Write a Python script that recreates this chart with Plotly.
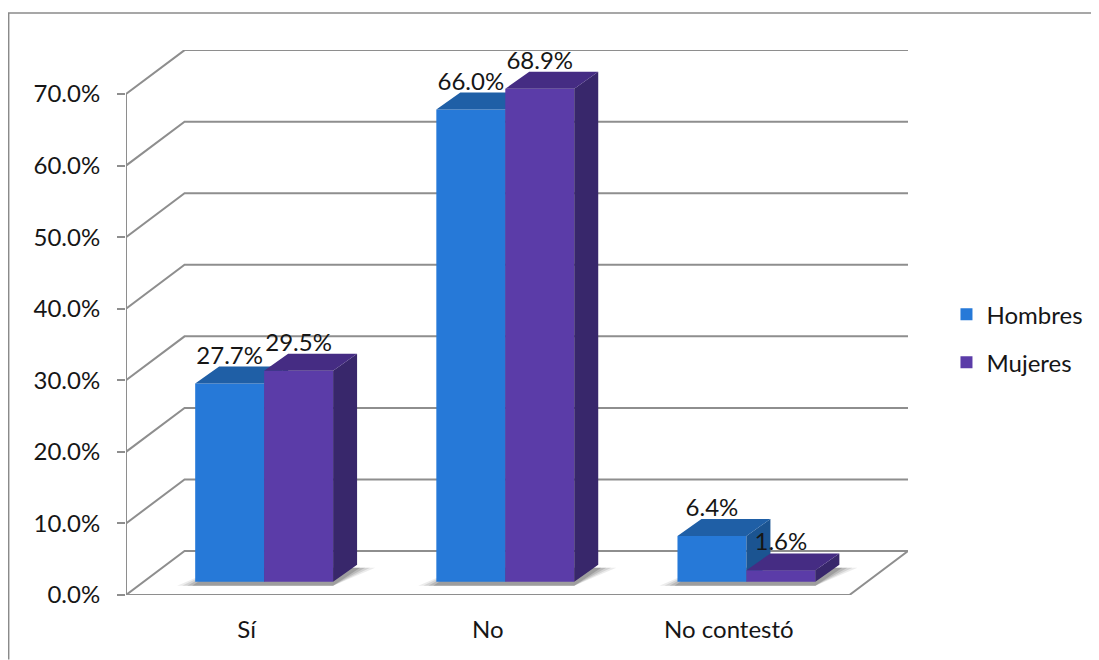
import plotly.graph_objects as go

categories = ["Sí", "No", "No contestó"]
hombres = [27.7, 66.0, 6.4]
mujeres = [29.5, 68.9, 1.6]
y_ticks = [0, 10, 20, 30, 40, 50, 60, 70]
y_labels = ["0.0%", "10.0%", "20.0%", "30.0%", "40.0%", "50.0%", "60.0%", "70.0%"]

PAGE = 8           # the browser's default body margin
W, H = 1099, 660
FIG_W, FIG_H = 1099, 652
L, R, T, B = 126, 908.5, 49.5, 595.5
PX_X = 241.3       # pixels per category
PX_Y = 7.17        # pixels per percentage point
WALL_X = (R - L) / PX_X - 3
WALL_Y = 6.14
BAR_W = 69 / PX_X
START_X, START_Y = 0.3 * WALL_X, 0.3 * WALL_Y
DEPTH_X, DEPTH_Y = 24 / PX_X, 17 / PX_Y
LABEL_UP = 26 / PX_Y

GRID = "#8e8e8e"
FONT = "Lato"
INK = "#161616"
FS = 24

fig = go.Figure()


def poly(name, xs, ys, color, xa="x", ya="y"):
    fig.add_trace(go.Scatter(x=xs, y=ys, mode="lines", fill="toself", fillcolor=color,
                             line=dict(width=0), hoverinfo="skip", showlegend=False,
                             name=name, xaxis=xa, yaxis=ya, cliponaxis=False))


# grid on the walls
gx, gy = [], []
for v in y_ticks:
    gx += [0, WALL_X, 3 + WALL_X, None]
    gy += [v, v + WALL_Y, v + WALL_Y, None]
gx += [0, 0, None, 0, 3, 3 + WALL_X]
gy += [0, 70, None, 0, 0, WALL_Y]
fig.add_trace(go.Scatter(x=gx, y=gy, mode="lines", line=dict(color=GRID, width=2),
                         hoverinfo="skip", showlegend=False, cliponaxis=False))

# shadow on the floor
for grow, alpha in [(18, 0.10), (13, 0.14), (8, 0.18), (3, 0.24)]:
    sx, sy = [], []
    for i in range(3):
        x0 = i + 0.5 + START_X - BAR_W
        x1 = i + 0.5 + START_X + BAR_W
        g = grow / PX_X
        low = START_Y - 0.55
        d = DEPTH_Y
        sx += [x0 - g, x1, x1 + DEPTH_X + g, x0 + DEPTH_X, None]
        sy += [low, low, low + d + 0.15, low + d + 0.15, None]
    poly("sombra", sx, sy, f"rgba(70,70,70,{alpha})")


def series(name, values, side, front, top, dark, xa, ya):
    xs = [i + 0.5 + START_X + side * BAR_W / 2 for i in range(len(values))]
    fig.add_trace(go.Bar(x=xs, y=values, base=[START_Y] * len(values), width=BAR_W,
                         marker=dict(color=front, line=dict(width=0)), name=name,
                         legendgroup=name, xaxis=xa, yaxis=ya,
                         hovertemplate="%{y:.1f}%<extra>" + name + "</extra>"))
    tx, ty, dx, dy = [], [], [], []
    for c, v in zip(xs, values):
        a, b = c - BAR_W / 2, c + BAR_W / 2
        h = v + START_Y
        tx += [a, b, b + DEPTH_X, a + DEPTH_X, None]
        ty += [h, h, h + DEPTH_Y, h + DEPTH_Y, None]
        dx += [b, b + DEPTH_X, b + DEPTH_X, b, None]
        dy += [START_Y, START_Y + DEPTH_Y, h + DEPTH_Y, h, None]
    poly(name + " lado", dx, dy, dark, xa, ya)
    poly(name + " arriba", tx, ty, top, xa, ya)
    return xs


xh = series("Hombres", hombres, -1, "#2679d8", "#1f5fa6", "#1b5491", "x2", "y2")
xm = series("Mujeres", mujeres, 1, "#5b3ca8", "#452c83", "#38276b", "x3", "y3")

fig.add_trace(go.Scatter(
    x=xh + xm,
    y=[v + START_Y + LABEL_UP for v in hombres + mujeres],
    text=[f"{v:.1f}%" for v in hombres + mujeres],
    mode="text", textposition="middle center",
    textfont=dict(family=FONT, size=FS, color=INK),
    hoverinfo="skip", showlegend=False, xaxis="x3", yaxis="y3", cliponaxis=False))

x_range = [0, 3 + WALL_X]
y_range = [0, (B - T) / PX_Y]
hidden = dict(visible=False, fixedrange=True)

fig.update_layout(
    width=FIG_W, height=FIG_H, autosize=False,
    margin=dict(l=L - PAGE, r=FIG_W + PAGE - R, t=T - PAGE, b=FIG_H + PAGE - B, pad=0),
    paper_bgcolor="white", plot_bgcolor="rgba(0,0,0,0)",
    barmode="overlay", font=dict(family=FONT, size=FS, color=INK),
    xaxis=dict(range=x_range, tickvals=[i + 0.5 for i in range(3)], ticktext=categories,
               showgrid=False, zeroline=False, showline=False, ticks="", ticklabelstandoff=18,
               tickfont=dict(family=FONT, size=FS, color=INK), fixedrange=True),
    yaxis=dict(range=y_range, tickvals=y_ticks, ticktext=y_labels,
               showgrid=False, zeroline=False, showline=False,
               ticks="outside", ticklen=8, tickwidth=2, tickcolor=GRID, ticklabelstandoff=12,
               tickfont=dict(family=FONT, size=FS, color=INK), fixedrange=True),
    xaxis2=dict(range=x_range, overlaying="x", **hidden),
    yaxis2=dict(range=y_range, overlaying="y", **hidden),
    xaxis3=dict(range=x_range, overlaying="x", **hidden),
    yaxis3=dict(range=y_range, overlaying="y", **hidden),
    legend=dict(x=(947 - L) / (R - L), y=(B - 292) / (B - T), xanchor="left", yanchor="top",
                traceorder="grouped", tracegroupgap=14, itemwidth=30,
                font=dict(family=FONT, size=FS, color=INK), bgcolor="rgba(0,0,0,0)"),
    shapes=[dict(type="path", xref="paper", yref="paper",
                 path=f"M {(8.6 - L) / (R - L)} {(B - 660) / (B - T)} "
                      f"L {(8.6 - L) / (R - L)} {(B - 12.5) / (B - T)} "
                      f"L {(1110 - L) / (R - L)} {(B - 12.5) / (B - T)}",
                 line=dict(color="#8a8a8a", width=1.5))],
)

fig.write_html("out.html")
